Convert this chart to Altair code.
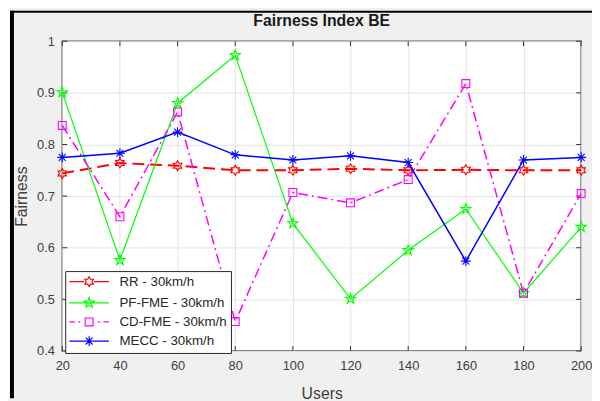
import math
import altair as alt
import pandas as pd

# ---- data ----
users = [20, 40, 60, 80, 100, 120, 140, 160, 180, 200]
series_names = ["RR - 30km/h", "PF-FME - 30km/h", "CD-FME - 30km/h", "MECC - 30km/h"]
rr = [0.744, 0.764, 0.759, 0.750, 0.750, 0.753, 0.750, 0.751, 0.750, 0.750]
pf = [0.901, 0.576, 0.880, 0.973, 0.647, 0.501, 0.595, 0.675, 0.512, 0.640]
cd = [0.837, 0.660, 0.863, 0.457, 0.707, 0.687, 0.732, 0.918, 0.512, 0.705]
mecc = [0.775, 0.783, 0.824, 0.780, 0.770, 0.778, 0.765, 0.574, 0.770, 0.775]
x_ticks = [20, 40, 60, 80, 100, 120, 140, 160, 180, 200]
y_ticks = [0.4, 0.5, 0.6, 0.7, 0.8, 0.9, 1.0]
title_text = ["Fairness Index BE"]

colors = ["#ff0000", "#00ff00", "#ff00ff", "#0000ff"]
FONT = "Liberation Sans"
TXT = "#404040"
W, H = 526, 314

values = [rr, pf, cd, mecc]
df = pd.DataFrame(
    [{"users": u, "value": v, "series": s}
     for s, vals in zip(series_names, values) for u, v in zip(users, vals)]
)


# ---- marker shapes (unit paths) ----
def star_path(n, r_out, r_in):
    pts = []
    for i in range(2 * n):
        r = r_out if i % 2 == 0 else r_in
        a = -math.pi / 2 + i * math.pi / n
        pts.append(f"{r*math.cos(a):.3f},{r*math.sin(a):.3f}")
    return "M" + "L".join(pts) + "Z"


hexagram = star_path(6, 1.0, 0.577)
pentagram = star_path(5, 1.1, 0.42)
square = "M-0.8,-0.8H0.8V0.8H-0.8Z"
asterisk = "M0,-1V1M-1,0H1M-0.7,-0.7L0.7,0.7M-0.7,0.7L0.7,-0.7"
markers = [hexagram, pentagram, square, asterisk]

# legend symbol = line sample (drawn as sub-paths) + marker
legend_lines = [
    "M-4,0H-1M1,0H4",
    "M-4,0H4",
    "M-4,0H-2.9M-2.2,0H-1.8M1.8,0H2.2M2.9,0H4",
    "M-4,0H4",
]
legend_paths = [ln + m for ln, m in zip(legend_lines, markers)]

dashes = [[12, 6], None, [10, 4, 2, 4], None]
widths = [2, 1.2, 1.5, 1.5]

color_scale = alt.Scale(domain=series_names, range=colors)
x_scale = alt.Scale(domain=[20, 200], nice=False)
y_scale = alt.Scale(domain=[0.4, 1.0], nice=False, zero=False)
xs = alt.X("users:Q", scale=x_scale,
           axis=alt.Axis(values=x_ticks, format="d", title="Users", labelFlush=False))
ys = alt.Y("value:Q", scale=y_scale,
           axis=alt.Axis(values=y_ticks, format=".1~f", title="Fairness", labelFlush=False))

base = alt.Chart(df)
layers = []

# inward tick marks on all four sides, placed through the axis scales
xt = alt.Chart(pd.DataFrame({"users": x_ticks}))
yt = alt.Chart(pd.DataFrame({"value": y_ticks}))
tick_kw = dict(color="#333333", strokeWidth=1)
layers += [
    xt.mark_rule(**tick_kw).encode(x=alt.X("users:Q", scale=x_scale), y=alt.value(H), y2=alt.value(H - 5)),
    xt.mark_rule(**tick_kw).encode(x=alt.X("users:Q", scale=x_scale), y=alt.value(0), y2=alt.value(5)),
    yt.mark_rule(**tick_kw).encode(y=alt.Y("value:Q", scale=y_scale), x=alt.value(0), x2=alt.value(5)),
    yt.mark_rule(**tick_kw).encode(y=alt.Y("value:Q", scale=y_scale), x=alt.value(W), x2=alt.value(W - 5)),
]

for name, col, dash, w, mk in zip(series_names, colors, dashes, widths, markers):
    sub = base.transform_filter(alt.datum.series == name)
    line_kw = dict(strokeWidth=w, color=col)
    if dash:
        line_kw["strokeDash"] = dash
    layers.append(sub.mark_line(**line_kw).encode(x=xs, y=ys))
    layers.append(sub.mark_point(shape=mk, size=100, filled=False, strokeWidth=1.1,
                                 opacity=1, color=col).encode(x=xs, y=ys))

legend = alt.Legend(
    title=None, orient="none", legendX=3, legendY=233,
    fillColor="white", strokeColor="#262626", padding=4,
    labelFont=FONT, labelFontSize=13.5, labelColor="#262626",
    symbolStrokeWidth=1.2, symbolSize=100, symbolOffset=13.5, labelOffset=24,
    rowPadding=4.4,
)
legend_layer = base.transform_filter("false").mark_point(filled=False, size=100, opacity=1).encode(
    x=xs, y=ys,
    color=alt.Color("series:N", scale=color_scale, legend=legend),
    shape=alt.Shape("series:N", scale=alt.Scale(domain=series_names, range=legend_paths), legend=legend),
)
layers.append(legend_layer)

# figure frame (decoration) and title text
one = alt.Chart(pd.DataFrame({"a": [0]}))
frame = [
    one.mark_rule(color="white", strokeWidth=2).encode(x=alt.value(-54), y=alt.value(-31), y2=alt.value(362)),
    one.mark_rule(color="black", strokeWidth=4).encode(x=alt.value(-51), y=alt.value(-31), y2=alt.value(362)),
    one.mark_rule(color="black", strokeWidth=2).encode(y=alt.value(-30), x=alt.value(-53), x2=alt.value(537)),
]
title = alt.Chart(pd.DataFrame({"t": title_text})).mark_text(
    font=FONT, fontSize=16, fontWeight="bold", color="#1a1a1a", align="center", baseline="middle"
).encode(text="t:N", x=alt.value(W / 2), y=alt.value(-20))

chart = alt.layer(*layers, *frame, title).properties(
    width=W, height=H,
    autosize=alt.AutoSizeParams(type="none"),
    padding={"left": 55, "top": 31, "right": 11, "bottom": 48},
    background="#f0f0f0",
).configure_view(
    fill="white", stroke="#5a5a5a", strokeWidth=1.5,
).configure_axis(
    grid=True, gridColor="#e3e3e3", gridWidth=1, domain=False, ticks=False,
    labelFont=FONT, labelFontSize=13, labelColor=TXT, labelPadding=8,
    titleFont=FONT, titleFontSize=16, titleColor=TXT, titleFontWeight="normal",
).configure_axisX(titlePadding=13, labelPadding=9).configure_axisY(titlePadding=7)

chart.save("out.html", embed_options={"renderer": "svg", "actions": False})
